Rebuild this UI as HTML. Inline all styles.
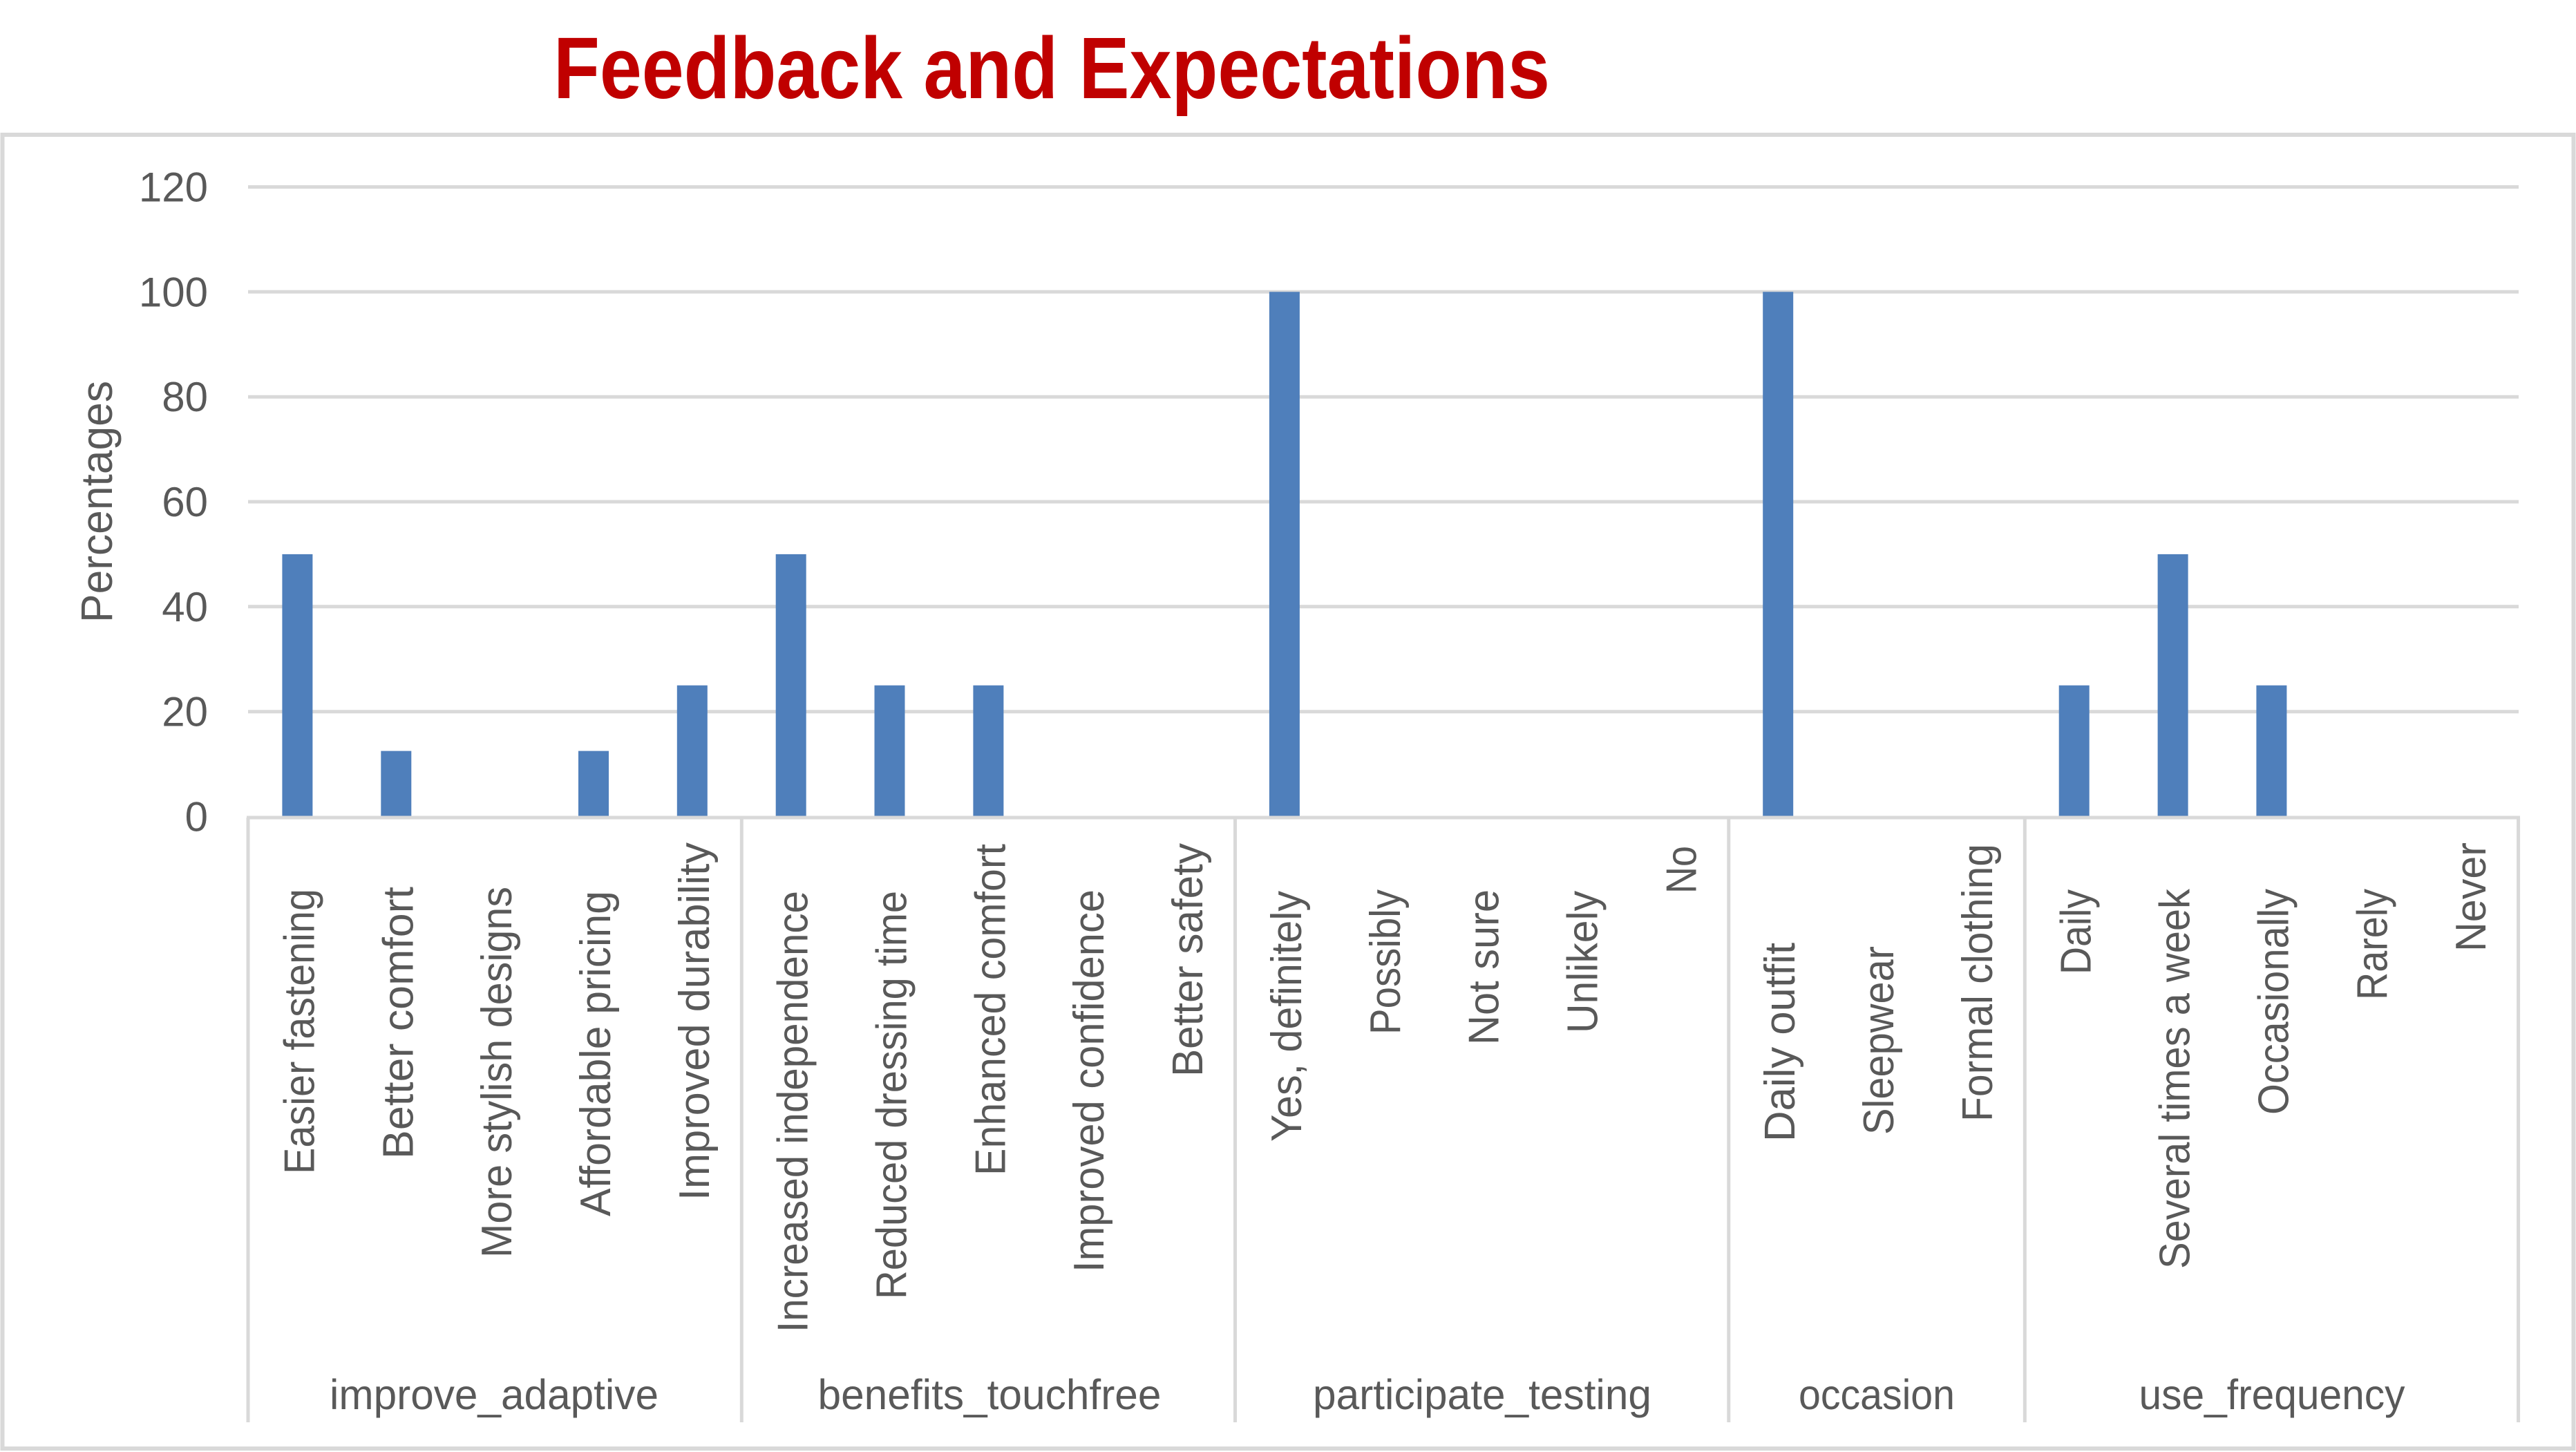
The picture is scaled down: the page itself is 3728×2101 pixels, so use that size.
<!DOCTYPE html>
<html>
<head>
<meta charset="utf-8">
<style>
html,body{margin:0;padding:0;background:#fff;}
svg{display:block;}
text{font-family:"Liberation Sans","DejaVu Sans",sans-serif;}
</style>
</head>
<body>
<svg width="3728" height="2101" viewBox="0 0 3728 2101" xmlns="http://www.w3.org/2000/svg">
<rect x="0" y="0" width="3728" height="2101" fill="#ffffff"/>
<!-- Title -->
<text x="801" y="142" font-size="126" font-weight="bold" fill="#C00000" textLength="1442" lengthAdjust="spacingAndGlyphs">Feedback and Expectations</text>
<!-- chart border -->
<rect x="3.5" y="195" width="3721" height="1901" fill="none" stroke="#d9d9d9" stroke-width="6"/>
<!-- gridlines -->
<g stroke="#d9d9d9" stroke-width="5">
<line x1="359" y1="270.5" x2="3645" y2="270.5"/>
<line x1="359" y1="422.3" x2="3645" y2="422.3"/>
<line x1="359" y1="574.2" x2="3645" y2="574.2"/>
<line x1="359" y1="726" x2="3645" y2="726"/>
<line x1="359" y1="877.8" x2="3645" y2="877.8"/>
<line x1="359" y1="1029.7" x2="3645" y2="1029.7"/>
</g>
<!-- y tick labels -->
<g font-size="60" fill="#595959" text-anchor="end">
<text x="301" y="291.5">120</text>
<text x="301" y="443.3">100</text>
<text x="301" y="595.2">80</text>
<text x="301" y="747">60</text>
<text x="301" y="898.8">40</text>
<text x="301" y="1050.7">20</text>
<text x="301" y="1202.5">0</text>
</g>
<!-- y axis title -->
<text transform="translate(162,901) rotate(-90)" font-size="64" fill="#595959" textLength="350" lengthAdjust="spacingAndGlyphs">Percentages</text>
<!-- bars -->
<g fill="#4f7fbb">
<rect x="408.4" y="801.9" width="44" height="379.6"/>
<rect x="551.3" y="1086.6" width="44" height="94.9"/>
<rect x="837" y="1086.6" width="44" height="94.9"/>
<rect x="979.8" y="991.7" width="44" height="189.8"/>
<rect x="1122.7" y="801.9" width="44" height="379.6"/>
<rect x="1265.5" y="991.7" width="44" height="189.8"/>
<rect x="1408.4" y="991.7" width="44" height="189.8"/>
<rect x="1836.9" y="422.3" width="44" height="759.2"/>
<rect x="2551.2" y="422.3" width="44" height="759.2"/>
<rect x="2979.7" y="991.7" width="44" height="189.8"/>
<rect x="3122.6" y="801.9" width="44" height="379.6"/>
<rect x="3265.4" y="991.7" width="44" height="189.8"/>
</g>
<!-- axis line and separators -->
<g stroke="#d9d9d9" stroke-width="5">
<line x1="357" y1="1183" x2="3647" y2="1183"/>
<line x1="359" y1="1183" x2="359" y2="2058"/>
<line x1="1073.3" y1="1183" x2="1073.3" y2="2058"/>
<line x1="1787.5" y1="1183" x2="1787.5" y2="2058"/>
<line x1="2501.8" y1="1183" x2="2501.8" y2="2058"/>
<line x1="2930.3" y1="1183" x2="2930.3" y2="2058"/>
<line x1="3644.6" y1="1183" x2="3644.6" y2="2058"/>
</g>
<!-- category labels -->
<g font-size="62" fill="#595959" lengthAdjust="spacingAndGlyphs">
<text transform="translate(454.4,1699) rotate(-90)" textLength="413" lengthAdjust="spacingAndGlyphs">Easier fastening</text>
<text transform="translate(597.3,1677) rotate(-90)" textLength="394" lengthAdjust="spacingAndGlyphs">Better comfort</text>
<text transform="translate(740.1,1820) rotate(-90)" textLength="537" lengthAdjust="spacingAndGlyphs">More stylish designs</text>
<text transform="translate(883,1760) rotate(-90)" textLength="471" lengthAdjust="spacingAndGlyphs">Affordable pricing</text>
<text transform="translate(1025.8,1737) rotate(-90)" textLength="518" lengthAdjust="spacingAndGlyphs">Improved durability</text>
<text transform="translate(1168.7,1928) rotate(-90)" textLength="639" lengthAdjust="spacingAndGlyphs">Increased independence</text>
<text transform="translate(1311.5,1880) rotate(-90)" textLength="591" lengthAdjust="spacingAndGlyphs">Reduced dressing time</text>
<text transform="translate(1454.4,1701) rotate(-90)" textLength="480" lengthAdjust="spacingAndGlyphs">Enhanced comfort</text>
<text transform="translate(1597.2,1841) rotate(-90)" textLength="554" lengthAdjust="spacingAndGlyphs">Improved confidence</text>
<text transform="translate(1740.1,1558) rotate(-90)" textLength="338" lengthAdjust="spacingAndGlyphs">Better safety</text>
<text transform="translate(1882.9,1652) rotate(-90)" textLength="363" lengthAdjust="spacingAndGlyphs">Yes, definitely</text>
<text transform="translate(2025.8,1497) rotate(-90)" textLength="210" lengthAdjust="spacingAndGlyphs">Possibly</text>
<text transform="translate(2168.6,1512) rotate(-90)" textLength="225" lengthAdjust="spacingAndGlyphs">Not sure</text>
<text transform="translate(2311.5,1495) rotate(-90)" textLength="206" lengthAdjust="spacingAndGlyphs">Unlikely</text>
<text transform="translate(2454.3,1293) rotate(-90)" textLength="69" lengthAdjust="spacingAndGlyphs">No</text>
<text transform="translate(2597.2,1652) rotate(-90)" textLength="288" lengthAdjust="spacingAndGlyphs">Daily outfit</text>
<text transform="translate(2740,1642) rotate(-90)" textLength="273" lengthAdjust="spacingAndGlyphs">Sleepwear</text>
<text transform="translate(2882.9,1623) rotate(-90)" textLength="402" lengthAdjust="spacingAndGlyphs">Formal clothing</text>
<text transform="translate(3025.7,1410) rotate(-90)" textLength="123" lengthAdjust="spacingAndGlyphs">Daily</text>
<text transform="translate(3168.6,1836) rotate(-90)" textLength="550" lengthAdjust="spacingAndGlyphs">Several times a week</text>
<text transform="translate(3311.4,1613) rotate(-90)" textLength="327" lengthAdjust="spacingAndGlyphs">Occasionally</text>
<text transform="translate(3454.3,1447) rotate(-90)" textLength="161" lengthAdjust="spacingAndGlyphs">Rarely</text>
<text transform="translate(3597.1,1377) rotate(-90)" textLength="158" lengthAdjust="spacingAndGlyphs">Never</text>
</g>
<!-- group labels -->
<g font-size="61" fill="#595959" text-anchor="middle">
<text x="715" y="2039" textLength="476" lengthAdjust="spacingAndGlyphs">improve_adaptive</text>
<text x="1432" y="2039" textLength="497" lengthAdjust="spacingAndGlyphs">benefits_touchfree</text>
<text x="2145" y="2039" textLength="490" lengthAdjust="spacingAndGlyphs">participate_testing</text>
<text x="2716" y="2039" textLength="226" lengthAdjust="spacingAndGlyphs">occasion</text>
<text x="3288" y="2039" textLength="385" lengthAdjust="spacingAndGlyphs">use_frequency</text>
</g>
</svg>
</body>
</html>
